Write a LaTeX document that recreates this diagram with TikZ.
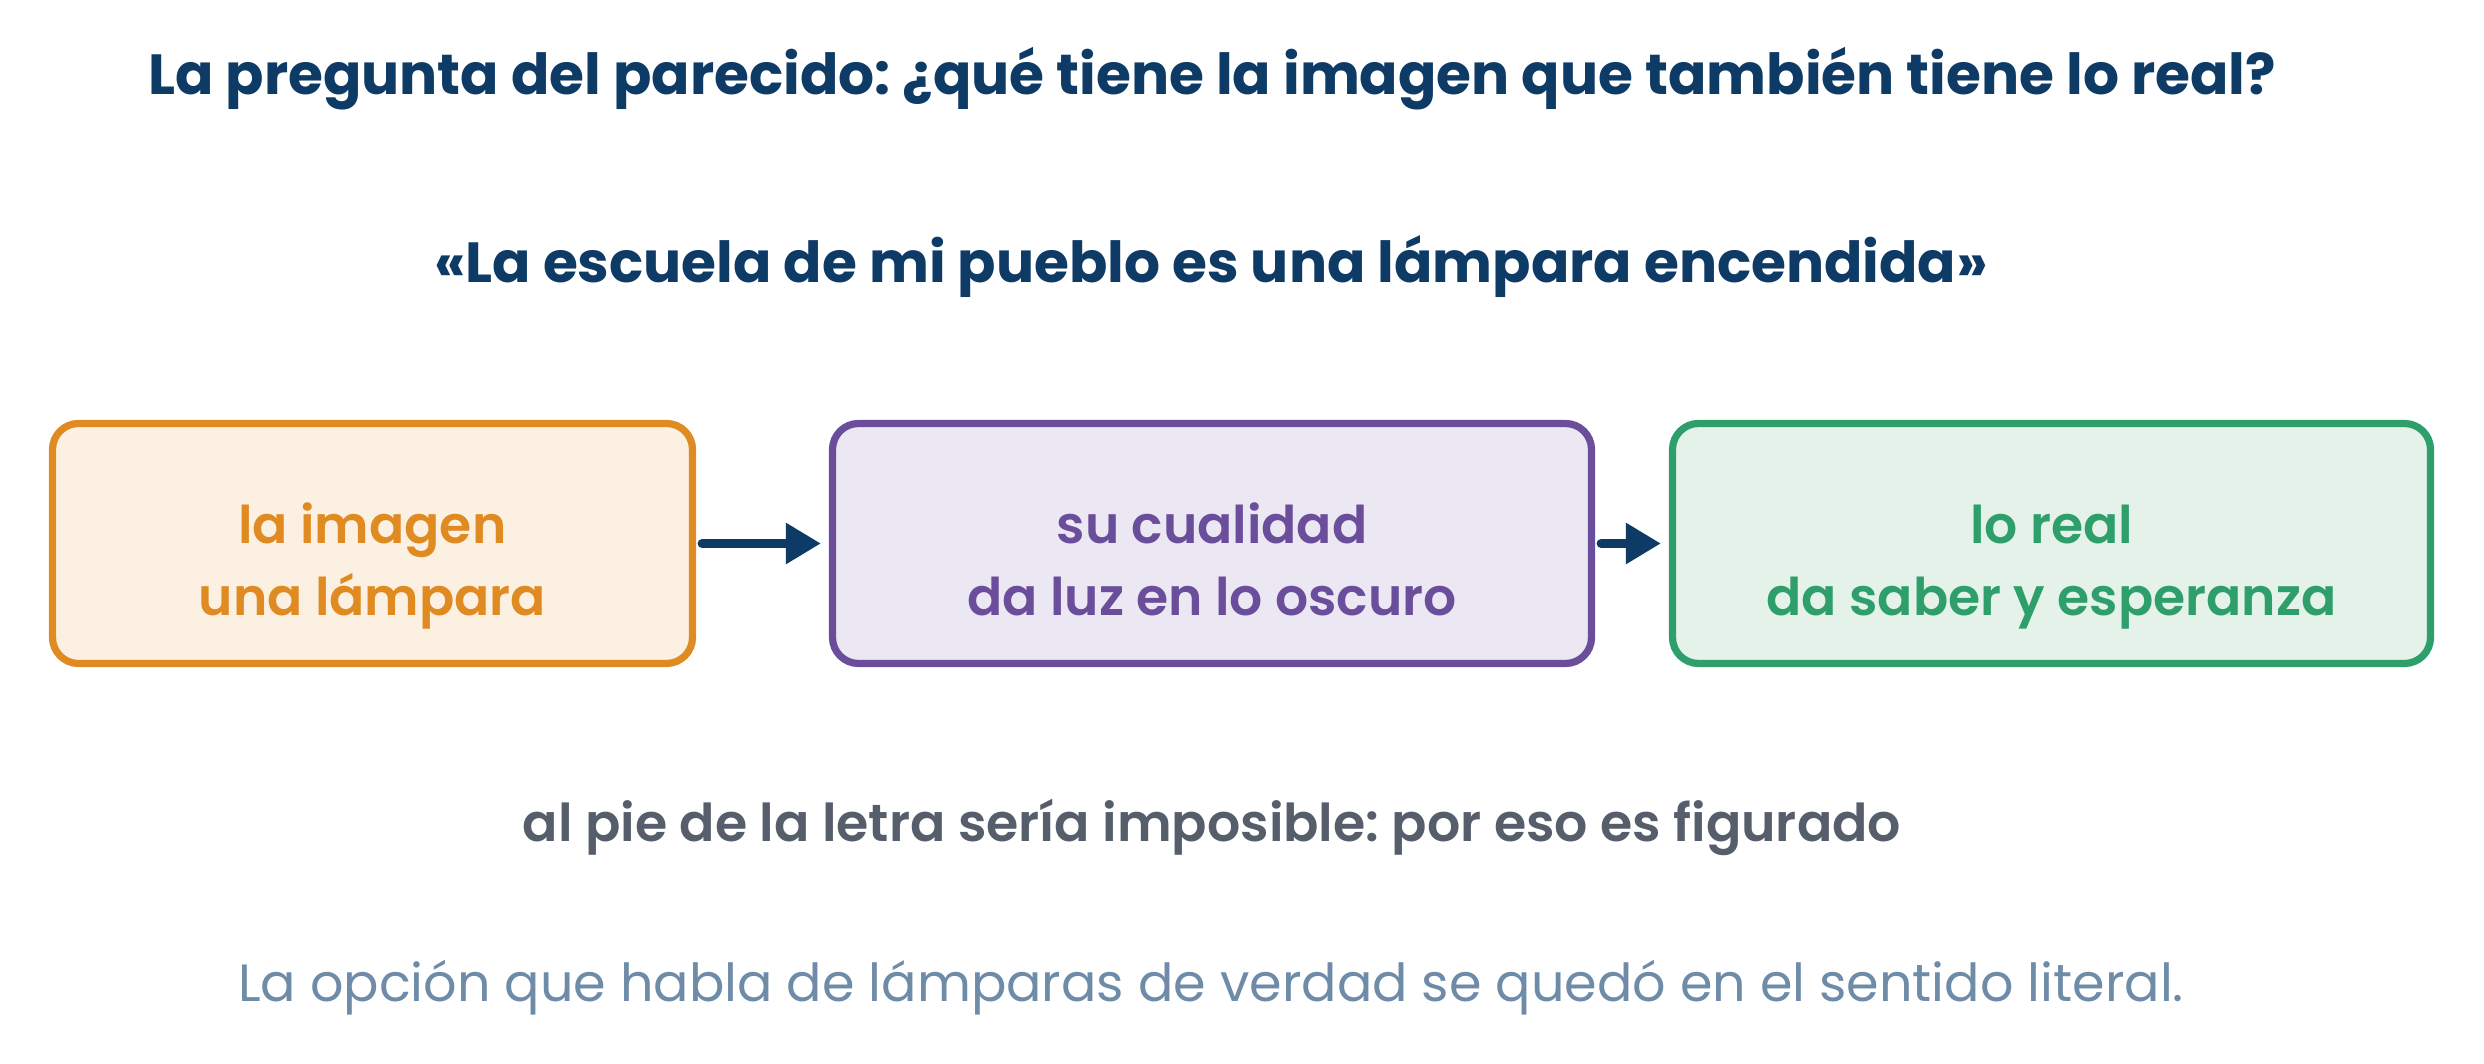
\documentclass[tikz,border=0pt]{standalone}
\usepackage{fontspec}
\usepackage{xcolor}
\setmainfont{Poppins}
\IfFontExistsTF{Poppins SemiBold}{\newfontfamily\semibold{Poppins SemiBold}}{\newcommand\semibold{\bfseries}}
\usetikzlibrary{arrows.meta}
\frenchspacing

\definecolor{titleblue}{HTML}{0E3A66}
\definecolor{imgorange}{HTML}{E08A22}
\definecolor{imgfill}{HTML}{FCF0E2}
\definecolor{qualpurple}{HTML}{6B4E9B}
\definecolor{qualfill}{HTML}{ECE8F3}
\definecolor{realgreen}{HTML}{2E9F6B}
\definecolor{realfill}{HTML}{E4F2EA}
\definecolor{figgray}{HTML}{555E6A}
\definecolor{notegray}{HTML}{6E8BA8}

% two lines with fixed top and bottom, so all boxes sit alike
\newcommand\twolines[2]{\rule{0pt}{44.5pt}#1\\\rule[-8pt]{0pt}{0pt}#2}

\begin{document}
\begin{tikzpicture}[
    x=0.5pt, y=0.5pt,
    box/.style={rectangle, rounded corners=13pt, line width=3.6pt, minimum height=120pt, align=center, font=\semibold\fontsize{26}{36}\selectfont},
    arrow/.style={-{Triangle[length=17.5pt,width=19.5pt]}, line width=4.5pt, line cap=round, draw=titleblue, shorten <=3pt, shorten >=4pt},
    heading/.style={anchor=base, text=titleblue, font=\bfseries\fontsize{28.3}{34}\selectfont}
]
    \useasboundingbox (0,0) rectangle (2484,1064);

    \node[heading] (question) at (1212,969) {La pregunta del parecido: ¿qué tiene la imagen que también tiene lo real?};
    \node[heading] (sentence) at (1211,781) {«La escuela de mi pueblo es una lámpara encendida»};

    \node[box, draw=imgorange, fill=imgfill, text=imgorange, minimum width=320pt] (image) at (372.5,520.5) {\twolines{la imagen}{una lámpara}};
    \node[box, draw=qualpurple, fill=qualfill, text=qualpurple, minimum width=379.5pt] (quality) at (1212,520.5) {\twolines{su cualidad}{da luz en lo oscuro}};
    \node[box, draw=realgreen, fill=realfill, text=realgreen, minimum width=379pt] (real) at (2051.5,520.5) {\twolines{lo real}{da saber y esperanza}};

    \draw[arrow] (image) -- (quality);
    \draw[arrow] (quality) -- (real);

    \node[anchor=base, text=figgray, font=\semibold\fontsize{26.1}{32}\selectfont] (figurative) at (1212,222) {al pie de la letra sería imposible: por eso es figurado};
    \node[anchor=base, text=notegray, font=\fontsize{26.2}{32}\selectfont] (literal) at (1211,62) {La opción que habla de lámparas de verdad se quedó en el sentido literal.};
\end{tikzpicture}
\end{document}
